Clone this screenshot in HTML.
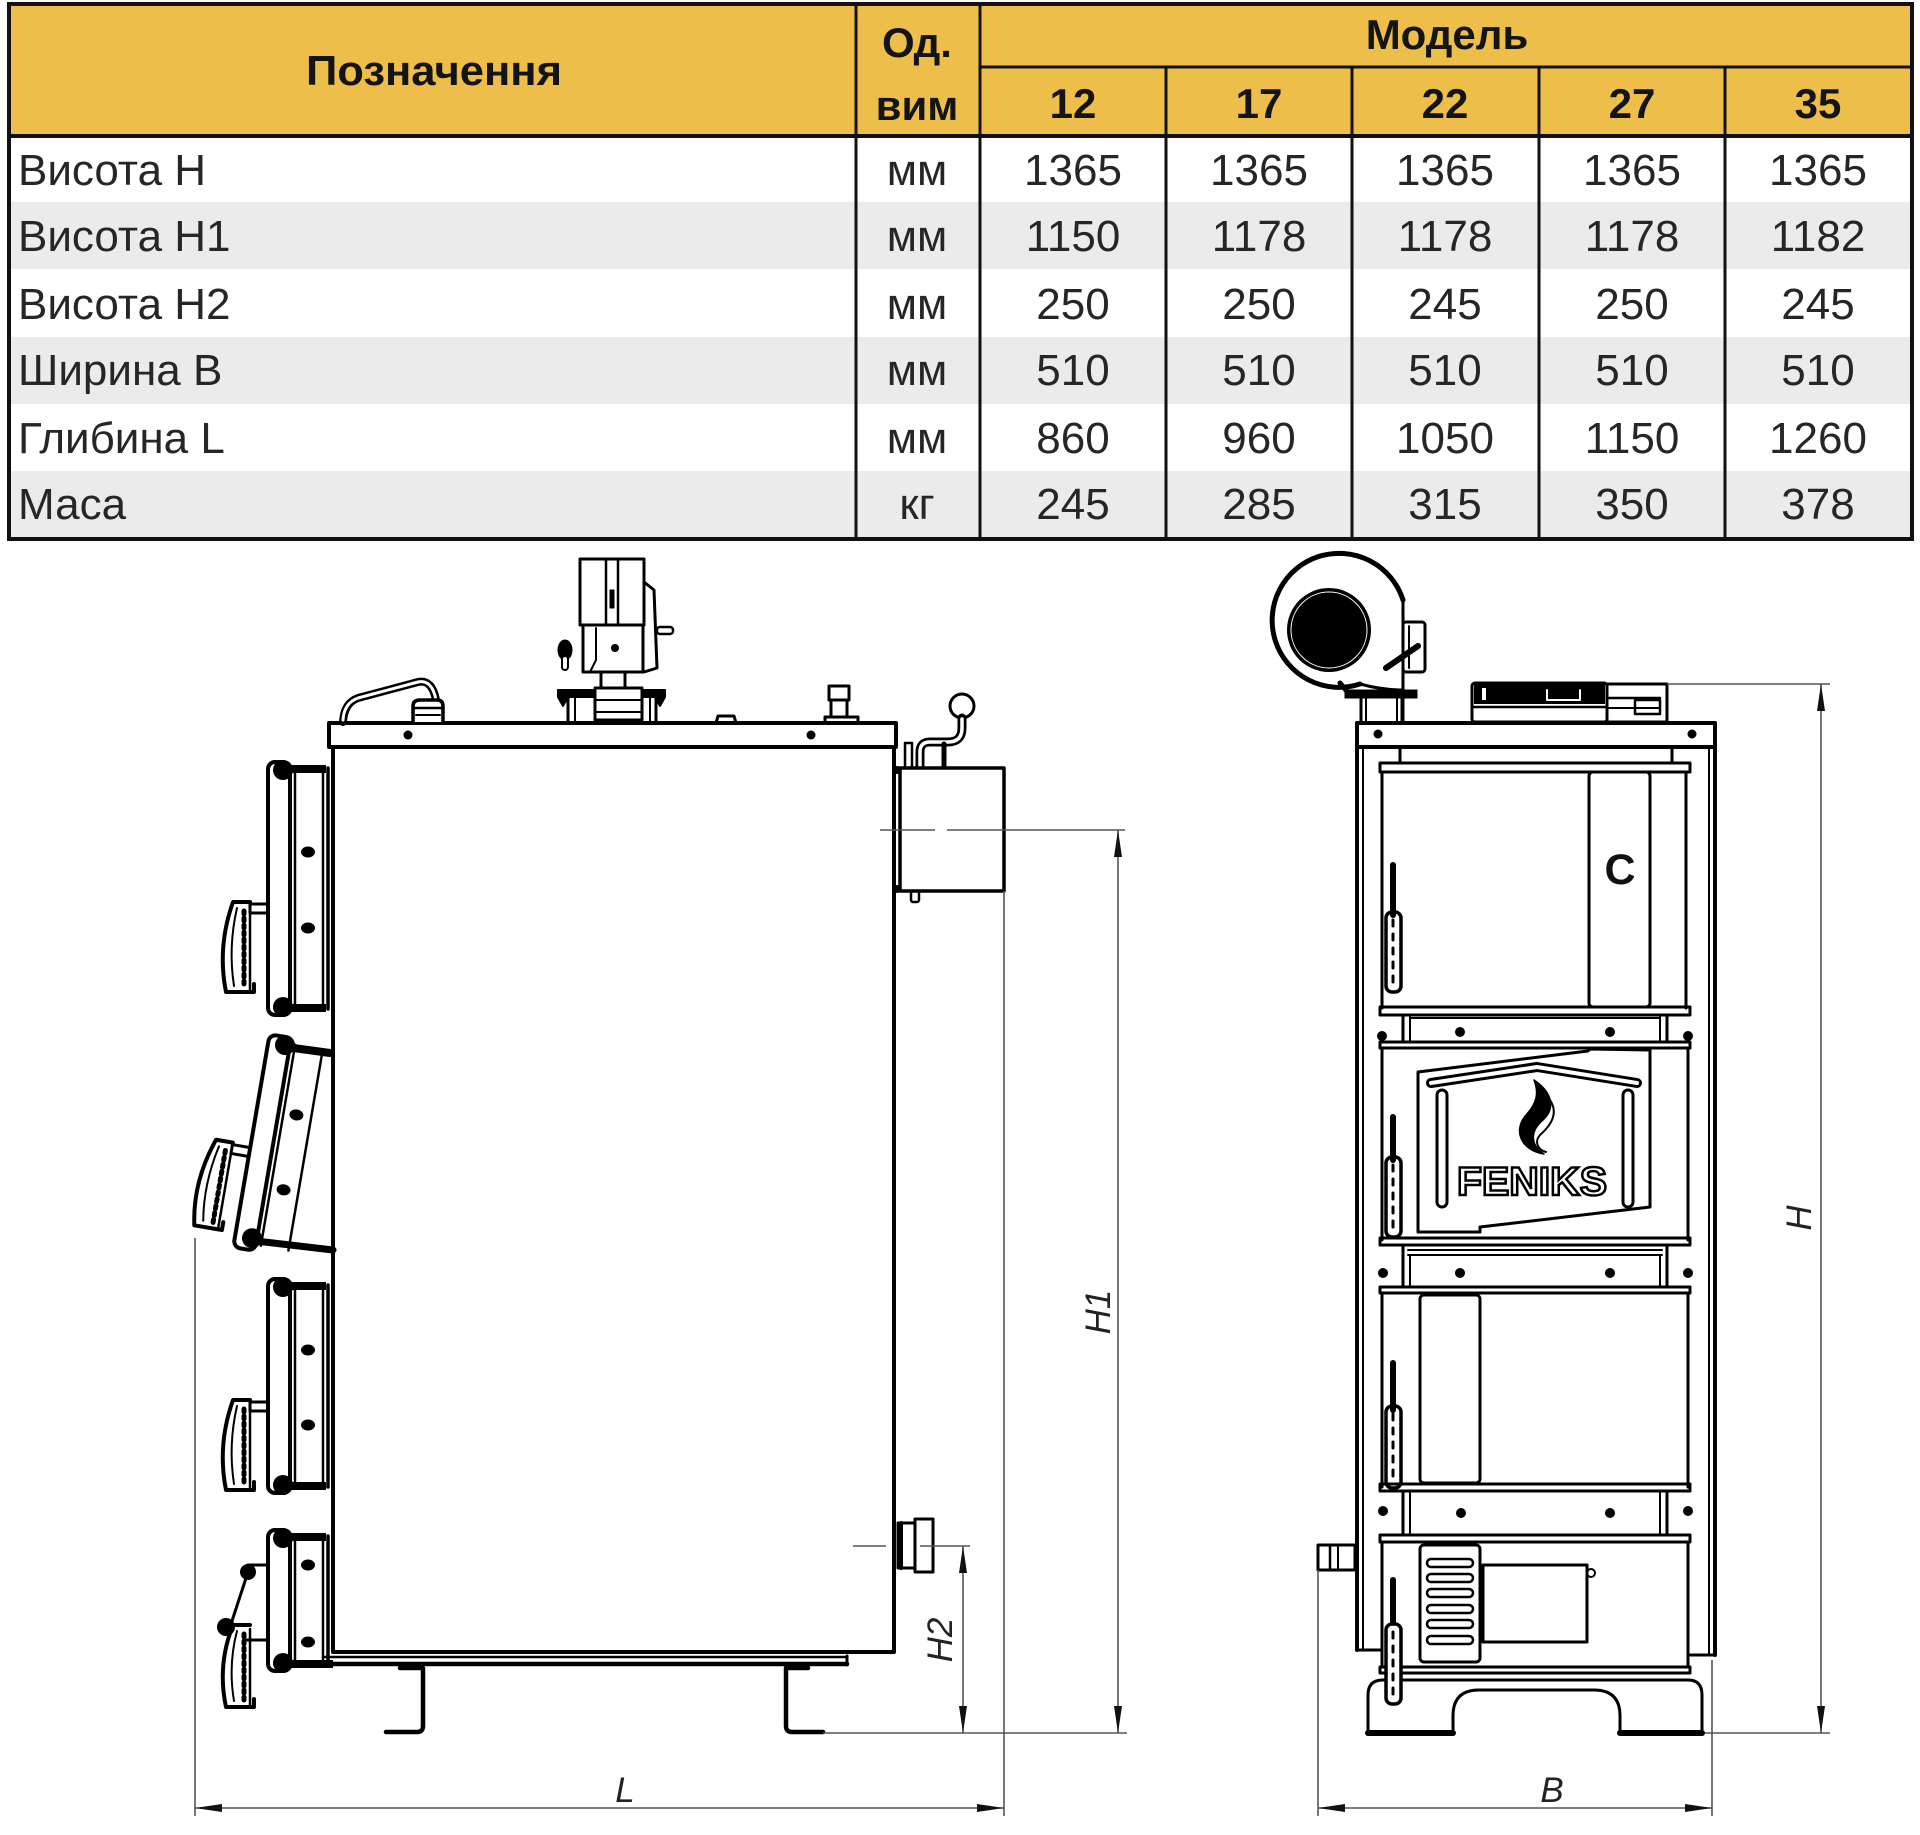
<!DOCTYPE html>
<html>
<head>
<meta charset="utf-8">
<style>
html,body{margin:0;padding:0;background:#fff;}
body{width:1920px;height:1835px;overflow:hidden;}
svg{display:block;}
</style>
</head>
<body>
<svg width="1920" height="1835" viewBox="0 0 1920 1835" xmlns="http://www.w3.org/2000/svg">
<rect x="0" y="0" width="1920" height="1835" fill="#fff"/>

<!-- ================= TABLE ================= -->
<rect x="9" y="4" width="1903" height="132" fill="#EEBE4B"/>
<rect x="9" y="202" width="1903" height="67" fill="#EBEBEB"/>
<rect x="9" y="337" width="1903" height="67" fill="#EBEBEB"/>
<rect x="9" y="471" width="1903" height="68" fill="#EBEBEB"/>

<g stroke="#111" fill="none">
  <rect x="9" y="4" width="1903" height="535" stroke-width="4"/>
  <line x1="9" y1="136" x2="1912" y2="136" stroke-width="4"/>
  <line x1="980" y1="67" x2="1912" y2="67" stroke-width="3"/>
  <line x1="856" y1="4" x2="856" y2="539" stroke-width="3"/>
  <line x1="980" y1="4" x2="980" y2="539" stroke-width="3"/>
  <line x1="1166" y1="67" x2="1166" y2="539" stroke-width="3"/>
  <line x1="1352" y1="67" x2="1352" y2="539" stroke-width="3"/>
  <line x1="1539" y1="67" x2="1539" y2="539" stroke-width="3"/>
  <line x1="1725" y1="67" x2="1725" y2="539" stroke-width="3"/>
</g>

<g font-family="'Liberation Sans', 'DejaVu Sans', sans-serif" font-weight="bold" fill="#141414" text-anchor="middle" font-size="42">
  <text x="434" y="85" textLength="256" lengthAdjust="spacingAndGlyphs">Позначення</text>
  <text x="917" y="57">Од.</text>
  <text x="917" y="120">вим</text>
  <text x="1447" y="49">Модель</text>
  <text x="1073" y="118">12</text>
  <text x="1259" y="118">17</text>
  <text x="1445" y="118">22</text>
  <text x="1632" y="118">27</text>
  <text x="1818" y="118">35</text>
</g>

<g font-family="'Liberation Sans', 'DejaVu Sans', sans-serif" fill="#262626" font-size="44">
  <text x="18" y="185">Висота H</text>
  <text x="18" y="251">Висота H1</text>
  <text x="18" y="319">Висота H2</text>
  <text x="18" y="385">Ширина B</text>
  <text x="18" y="453">Глибина L</text>
  <text x="18" y="519">Маса</text>
</g>
<g font-family="'Liberation Sans', 'DejaVu Sans', sans-serif" fill="#262626" font-size="44" text-anchor="middle">
  <text x="917" y="185">мм</text>
  <text x="917" y="251">мм</text>
  <text x="917" y="319">мм</text>
  <text x="917" y="385">мм</text>
  <text x="917" y="453">мм</text>
  <text x="917" y="519">кг</text>

  <text x="1073" y="185">1365</text><text x="1259" y="185">1365</text><text x="1445" y="185">1365</text><text x="1632" y="185">1365</text><text x="1818" y="185">1365</text>
  <text x="1073" y="251">1150</text><text x="1259" y="251">1178</text><text x="1445" y="251">1178</text><text x="1632" y="251">1178</text><text x="1818" y="251">1182</text>
  <text x="1073" y="319">250</text><text x="1259" y="319">250</text><text x="1445" y="319">245</text><text x="1632" y="319">250</text><text x="1818" y="319">245</text>
  <text x="1073" y="385">510</text><text x="1259" y="385">510</text><text x="1445" y="385">510</text><text x="1632" y="385">510</text><text x="1818" y="385">510</text>
  <text x="1073" y="453">860</text><text x="1259" y="453">960</text><text x="1445" y="453">1050</text><text x="1632" y="453">1150</text><text x="1818" y="453">1260</text>
  <text x="1073" y="519">245</text><text x="1259" y="519">285</text><text x="1445" y="519">315</text><text x="1632" y="519">350</text><text x="1818" y="519">378</text>
</g>

<!-- ================= LEFT DRAWING (side view) ================= -->
<g fill="none" stroke="#000" stroke-linejoin="round" stroke-linecap="round">
  <rect x="333" y="747" width="561" height="905" stroke-width="4"/>
  <rect x="329" y="723" width="567" height="24" stroke-width="4"/>
  <circle cx="408" cy="735" r="4.5" fill="#000" stroke="none"/>
  <circle cx="811" cy="735" r="4.5" fill="#000" stroke="none"/>
  <circle cx="897" cy="770" r="4" fill="#000" stroke="none"/>
  <circle cx="897" cy="889" r="4" fill="#000" stroke="none"/>
  <line x1="323" y1="1657" x2="845" y2="1657" stroke-width="2.5"/>
  <line x1="323" y1="1664" x2="847" y2="1664" stroke-width="4.5"/>
  <line x1="847" y1="1656" x2="847" y2="1665" stroke-width="3"/>
  <path d="M400 1668 L423 1668 L423 1726 Q423 1732 417 1732 L386 1732" stroke-width="4.5"/>
  <path d="M808 1668 L786 1668 L786 1726 Q786 1732 792 1732 L823 1732" stroke-width="4.5"/>

  <!-- top blower -->
  <rect x="580" y="559" width="64" height="66" stroke-width="3"/>
  <rect x="606" y="559" width="12" height="66" stroke-width="2.5"/>
  <rect x="610" y="590" width="4" height="18" fill="#000" stroke-width="1"/>
  <path d="M644 582 L654 590 L657 668 L644 672" stroke-width="3"/>
  <rect x="657" y="627" width="16" height="7" rx="3" stroke-width="2.5"/>
  <rect x="583" y="625" width="60" height="47" stroke-width="3"/>
  <circle cx="615" cy="648" r="4" fill="#000" stroke="none"/>
  <path d="M596 628 L596 660 L590 672" stroke-width="2"/>
  <ellipse cx="565" cy="650" rx="7" ry="10" fill="#000" stroke-width="1"/>
  <rect x="562" y="656" width="6" height="14" rx="3" fill="#fff" stroke-width="2"/>
  <rect x="601" y="672" width="24" height="16" stroke-width="3"/>
  <path d="M558 690 L665 690 L665 697 L660 706 L655 697 L568 697 L563 706 L558 697 Z" fill="#000" stroke-width="2"/>
  <line x1="568" y1="697" x2="568" y2="722" stroke-width="3"/>
  <line x1="575" y1="697" x2="575" y2="722" stroke-width="2"/>
  <line x1="650" y1="697" x2="650" y2="722" stroke-width="2"/>
  <line x1="656" y1="697" x2="656" y2="722" stroke-width="3"/>
  <rect x="595" y="688" width="47" height="32" fill="#fff" stroke-width="3"/>
  <line x1="595" y1="700" x2="642" y2="700" stroke-width="2"/>
  <line x1="595" y1="712" x2="642" y2="712" stroke-width="2"/>

  <!-- top-left rod handle -->
  <path d="M343 722 Q344 703 358 698 L418 682 Q432 679 436 700" stroke-width="8"/>
  <path d="M343 720 Q344 703 358 698 L418 682 Q432 679 436 700" stroke="#fff" stroke-width="3"/>
  <path d="M413 722 L413 706 Q413 700 420 700 L437 700 Q443 700 443 706 L443 722" fill="#fff" stroke-width="3.5"/>
  <line x1="413" y1="708" x2="443" y2="708" stroke-width="2.5"/>
  <line x1="416" y1="715" x2="440" y2="715" stroke-width="2"/>
  <path d="M716 723 L718 716 L734 716 L736 723" stroke-width="3"/>
  <rect x="829" y="686" width="20" height="14" stroke-width="3"/>
  <rect x="831" y="700" width="16" height="17" stroke-width="3"/>
  <path d="M825 723 L825 717 L858 717 L858 723" stroke-width="3"/>

  <!-- right side rod with ball -->
  <circle cx="962" cy="706" r="12" fill="#fff" stroke-width="3"/>
  <path d="M962 718 L962 728 Q962 742 948 742 L930 742 Q920 742 920 752 L920 768" stroke-width="9"/>
  <path d="M962 719 L962 728 Q962 742 948 742 L930 742 Q920 742 920 752 L920 766" stroke="#fff" stroke-width="3.5"/>
  <line x1="944" y1="744" x2="944" y2="768" stroke-width="5"/>
  <rect x="905" y="743" width="7" height="25" stroke-width="2.5"/>
  <rect x="900" y="768" width="104" height="123" fill="#fff" stroke-width="3.5"/>
  <rect x="911" y="891" width="8" height="11" rx="2" stroke-width="2.5"/>

  <rect x="898" y="1523" width="17" height="45" stroke-width="3"/>
  <rect x="915" y="1519" width="18" height="53" stroke-width="3"/>
  <line x1="901" y1="1523" x2="901" y2="1568" stroke-width="4"/>

  <!-- Door 1 -->
  <rect x="268" y="762" width="22" height="253" rx="7" stroke-width="4"/>
  <line x1="295" y1="768" x2="295" y2="1009" stroke-width="2.5"/>
  <line x1="323" y1="768" x2="323" y2="1009" stroke-width="2.5"/>
  <line x1="328" y1="768" x2="328" y2="1009" stroke-width="3.5"/>
  <rect x="283" y="765" width="43" height="8" fill="#000" stroke="none"/>
  <rect x="283" y="1004" width="43" height="8" fill="#000" stroke="none"/>
  <circle cx="283" cy="770" r="10" fill="#000" stroke="none"/>
  <circle cx="283" cy="1007" r="10" fill="#000" stroke="none"/>
  <ellipse cx="308" cy="852" rx="7" ry="5.5" fill="#000" stroke="none"/>
  <ellipse cx="308" cy="928" rx="7" ry="5.5" fill="#000" stroke="none"/>
  <g transform="translate(0,902)">
    <path d="M268 2 L250 2 L250 11 L268 11" stroke-width="3"/>
    <path d="M250 0 L233 0 Q217 45 226 90 L254 90 L254 82" stroke-width="4"/>
    <path d="M237 6 Q228 45 234 84" stroke-width="2"/>
    <line x1="244" y1="9" x2="244" y2="84" stroke-width="5" stroke-dasharray="3 4"/>
    <line x1="250" y1="4" x2="250" y2="88" stroke-width="2.5"/>
  </g>

  <!-- Door 2 (tilted) -->
  <g transform="rotate(9.7 285 1045)">
    <rect x="268" y="1037" width="22" height="216" rx="7" stroke-width="4"/>
    <line x1="295" y1="1043" x2="295" y2="1247" stroke-width="2.5"/>
    <line x1="323" y1="1043" x2="323" y2="1247" stroke-width="2.5"/>
    <circle cx="285" cy="1045" r="10" fill="#000" stroke="none"/>
    <circle cx="285" cy="1241" r="10" fill="#000" stroke="none"/>
    <ellipse cx="308" cy="1112" rx="7" ry="5.5" fill="#000" stroke="none"/>
    <ellipse cx="308" cy="1188" rx="7" ry="5.5" fill="#000" stroke="none"/>
    <g transform="translate(0,1150)">
      <path d="M268 2 L250 2 L250 11 L268 11" stroke-width="3"/>
      <path d="M250 0 L233 0 Q217 45 226 88 L254 88 L254 80" stroke-width="4"/>
      <path d="M237 6 Q228 45 234 82" stroke-width="2"/>
      <line x1="244" y1="9" x2="244" y2="82" stroke-width="5" stroke-dasharray="3 4"/>
      <line x1="250" y1="4" x2="250" y2="86" stroke-width="2.5"/>
    </g>
  </g>
  <path d="M286 1047 L330 1053" stroke-width="8"/>
  <path d="M256 1241 L333 1250" stroke-width="7"/>

  <!-- Door 3 -->
  <rect x="268" y="1279" width="22" height="214" rx="7" stroke-width="4"/>
  <line x1="295" y1="1285" x2="295" y2="1487" stroke-width="2.5"/>
  <line x1="323" y1="1285" x2="323" y2="1487" stroke-width="2.5"/>
  <line x1="328" y1="1285" x2="328" y2="1487" stroke-width="3.5"/>
  <rect x="283" y="1282" width="43" height="8" fill="#000" stroke="none"/>
  <rect x="283" y="1482" width="43" height="8" fill="#000" stroke="none"/>
  <circle cx="283" cy="1287" r="10" fill="#000" stroke="none"/>
  <circle cx="283" cy="1485" r="10" fill="#000" stroke="none"/>
  <ellipse cx="308" cy="1350" rx="7" ry="5.5" fill="#000" stroke="none"/>
  <ellipse cx="308" cy="1425" rx="7" ry="5.5" fill="#000" stroke="none"/>
  <g transform="translate(0,1400)">
    <path d="M268 2 L250 2 L250 11 L268 11" stroke-width="3"/>
    <path d="M250 0 L233 0 Q217 45 226 90 L254 90 L254 82" stroke-width="4"/>
    <path d="M237 6 Q228 45 234 84" stroke-width="2"/>
    <line x1="244" y1="9" x2="244" y2="84" stroke-width="5" stroke-dasharray="3 4"/>
    <line x1="250" y1="4" x2="250" y2="88" stroke-width="2.5"/>
  </g>

  <!-- Door 4 -->
  <rect x="268" y="1530" width="22" height="141" rx="7" stroke-width="4"/>
  <line x1="295" y1="1536" x2="295" y2="1665" stroke-width="2.5"/>
  <line x1="323" y1="1536" x2="323" y2="1665" stroke-width="2.5"/>
  <line x1="328" y1="1536" x2="328" y2="1665" stroke-width="3.5"/>
  <rect x="283" y="1533" width="43" height="8" fill="#000" stroke="none"/>
  <rect x="283" y="1660" width="50" height="8" fill="#000" stroke="none"/>
  <circle cx="283" cy="1538" r="10" fill="#000" stroke="none"/>
  <circle cx="283" cy="1663" r="10" fill="#000" stroke="none"/>
  <ellipse cx="308" cy="1565" rx="7" ry="5.5" fill="#000" stroke="none"/>
  <ellipse cx="308" cy="1642" rx="7" ry="5.5" fill="#000" stroke="none"/>
  <line x1="248" y1="1565" x2="268" y2="1565" stroke-width="3"/>
  <line x1="245" y1="1640" x2="268" y2="1640" stroke-width="3"/>
  <line x1="248" y1="1572" x2="231" y2="1624" stroke-width="3"/>
  <circle cx="248" cy="1572" r="8" fill="#000" stroke="none"/>
  <circle cx="226" cy="1627" r="9" fill="#000" stroke="none"/>
  <g transform="translate(0,1625)">
    <path d="M250 0 L233 0 Q217 40 226 82 L254 82 L254 74" stroke-width="4"/>
    <path d="M237 6 Q228 40 234 76" stroke-width="2"/>
    <line x1="244" y1="9" x2="244" y2="76" stroke-width="5" stroke-dasharray="3 4"/>
    <line x1="250" y1="4" x2="250" y2="80" stroke-width="2.5"/>
  </g>
</g>

<!-- left drawing dimension lines -->
<g stroke="#555" stroke-width="1.6" fill="none">
  <line x1="880" y1="830" x2="935" y2="830"/>
  <line x1="947" y1="830" x2="1125" y2="830"/>
  <line x1="1118" y1="830" x2="1118" y2="1733"/>
  <line x1="853" y1="1546" x2="886" y2="1546"/>
  <line x1="920" y1="1546" x2="970" y2="1546"/>
  <line x1="963" y1="1546" x2="963" y2="1733"/>
  <line x1="823" y1="1733" x2="1127" y2="1733"/>
  <line x1="1004" y1="891" x2="1004" y2="1816"/>
  <line x1="195" y1="1238" x2="195" y2="1816"/>
  <line x1="195" y1="1808" x2="1004" y2="1808"/>
</g>
<g fill="#111">
  <polygon points="1118,830 1114,857 1122,857"/>
  <polygon points="1118,1733 1114,1706 1122,1706"/>
  <polygon points="963,1546 959,1573 967,1573"/>
  <polygon points="963,1733 959,1706 967,1706"/>
  <polygon points="195,1808 222,1804 222,1812"/>
  <polygon points="1004,1808 977,1804 977,1812"/>
</g>
<g font-family="'Liberation Sans', 'DejaVu Sans', sans-serif" font-style="italic" fill="#222" font-size="35" text-anchor="middle">
  <text x="625" y="1802">L</text>
  <text transform="translate(1110,1312) rotate(-90)">H1</text>
  <text transform="translate(952,1640) rotate(-90)">H2</text>
  <text x="1552" y="1802">B</text>
  <text transform="translate(1811,1218) rotate(-90)">H</text>
</g>

<!-- ================= RIGHT DRAWING (front view) ================= -->
<g fill="none" stroke="#000" stroke-linejoin="round" stroke-linecap="round">
  <line x1="1357" y1="723" x2="1357" y2="1650" stroke-width="4"/>
  <line x1="1363" y1="747" x2="1363" y2="1650" stroke-width="2"/>
  <line x1="1357" y1="1650" x2="1380" y2="1650" stroke-width="3"/>
  <line x1="1715" y1="723" x2="1715" y2="1655" stroke-width="4"/>
  <line x1="1709" y1="747" x2="1709" y2="1655" stroke-width="2"/>
  <line x1="1690" y1="1655" x2="1715" y2="1655" stroke-width="3"/>
  <rect x="1357" y="723" width="358" height="24" stroke-width="4"/>
  <circle cx="1378" cy="734" r="4.5" fill="#000" stroke="none"/>
  <circle cx="1692" cy="734" r="4.5" fill="#000" stroke="none"/>
  <path d="M1363 747 L1400 747 L1400 763" stroke-width="3"/>
  <path d="M1709 747 L1672 747 L1672 762" stroke-width="3"/>

  <!-- fan -->
  <path d="M1403 600 A67 67 0 1 0 1360 684" stroke-width="5"/>
  <path d="M1360 684 Q1382 690 1403 690" stroke-width="3"/>
  <circle cx="1329" cy="630" r="42" fill="#000" stroke="none"/>
  <circle cx="1329" cy="630" r="38" stroke="#fff" stroke-width="1"/>
  <line x1="1403" y1="598" x2="1403" y2="722" stroke-width="3"/>
  <rect x="1403" y="622" width="22" height="50" rx="3" stroke-width="3"/>
  <line x1="1409" y1="626" x2="1409" y2="668" stroke-width="2"/>
  <line x1="1386" y1="668" x2="1418" y2="646" stroke-width="6"/>
  <path d="M1340 683 L1350 695" stroke-width="5"/>
  <rect x="1345" y="690" width="72" height="8" fill="#000" stroke-width="1"/>
  <line x1="1361" y1="698" x2="1361" y2="723" stroke-width="3"/>
  <line x1="1366" y1="698" x2="1366" y2="723" stroke-width="2"/>
  <line x1="1397" y1="698" x2="1397" y2="723" stroke-width="2"/>
  <line x1="1402" y1="698" x2="1402" y2="723" stroke-width="3"/>

  <!-- control box -->
  <rect x="1472" y="683" width="135" height="39" rx="3" stroke-width="3"/>
  <rect x="1474" y="684" width="131" height="20" fill="#000" stroke="none"/>
  <rect x="1482" y="688" width="4" height="12" fill="#fff" stroke="none"/>
  <path d="M1547 690 L1547 700 L1580 700 L1580 690" stroke="#fff" stroke-width="2"/>
  <line x1="1474" y1="707" x2="1605" y2="707" stroke-width="2.5"/>
  <rect x="1607" y="684" width="60" height="38" stroke-width="3"/>
  <line x1="1607" y1="698" x2="1660" y2="698" stroke-width="2.5"/>
  <line x1="1607" y1="708" x2="1660" y2="708" stroke-width="2"/>
  <rect x="1635" y="700" width="25" height="14" stroke-width="2.5"/>

  <!-- Door 1 (C) -->
  <rect x="1380" y="763" width="310" height="9" stroke-width="3"/>
  <line x1="1382" y1="772" x2="1382" y2="1008" stroke-width="3"/>
  <line x1="1686" y1="772" x2="1686" y2="1008" stroke-width="3"/>
  <rect x="1589" y="772" width="61" height="235" rx="4" stroke-width="3"/>
  <rect x="1380" y="1007" width="310" height="8" stroke-width="3"/>
  <line x1="1403" y1="1015" x2="1403" y2="1042" stroke-width="3"/>
  <line x1="1410" y1="1015" x2="1410" y2="1042" stroke-width="2"/>
  <line x1="1660" y1="1015" x2="1660" y2="1042" stroke-width="2"/>
  <line x1="1667" y1="1015" x2="1667" y2="1042" stroke-width="3"/>
  <line x1="1410" y1="1018" x2="1660" y2="1018" stroke-width="2"/>
  <!-- Door 2 (FENIKS) -->
  <rect x="1380" y="1042" width="310" height="6" stroke-width="3"/>
  <line x1="1382" y1="1048" x2="1382" y2="1240" stroke-width="3"/>
  <line x1="1688" y1="1048" x2="1688" y2="1240" stroke-width="3"/>
  <path d="M1418 1072 L1588 1051 L1590 1049 L1650 1050 L1650 1207 L1480 1227 L1480 1232 L1418 1232 Z" stroke-width="3"/>
  <path d="M1431 1083 L1537 1067 L1637 1083" stroke-width="10"/>
  <path d="M1431 1083 L1537 1067 L1637 1083" stroke="#fff" stroke-width="4"/>
  <rect x="1437" y="1090" width="10" height="117" rx="5" stroke-width="3"/>
  <rect x="1623" y="1090" width="10" height="117" rx="5" stroke-width="3"/>
  <path d="M1534 1080 C1552 1092 1556 1108 1543 1120 C1530 1131 1530 1145 1544 1154 C1520 1150 1513 1130 1526 1115 C1537 1103 1539 1093 1534 1080 Z" fill="#000" stroke-width="1.5"/>
  <path d="M1550 1100 C1560 1115 1548 1128 1540 1135 C1534 1142 1538 1150 1546 1152" stroke-width="2"/>
  <rect x="1380" y="1238" width="310" height="7" stroke-width="3"/>
  <line x1="1403" y1="1245" x2="1403" y2="1287" stroke-width="3"/>
  <line x1="1410" y1="1255" x2="1410" y2="1287" stroke-width="2"/>
  <line x1="1660" y1="1255" x2="1660" y2="1287" stroke-width="2"/>
  <line x1="1667" y1="1245" x2="1667" y2="1287" stroke-width="3"/>
  <line x1="1408" y1="1250" x2="1662" y2="1250" stroke-width="2"/>
  <line x1="1408" y1="1255" x2="1662" y2="1255" stroke-width="2"/>
  <!-- Door 3 -->
  <rect x="1380" y="1287" width="310" height="6" stroke-width="3"/>
  <line x1="1382" y1="1293" x2="1382" y2="1487" stroke-width="3"/>
  <line x1="1688" y1="1293" x2="1688" y2="1487" stroke-width="3"/>
  <rect x="1420" y="1295" width="60" height="188" rx="4" stroke-width="3"/>
  <rect x="1380" y="1484" width="310" height="7" stroke-width="3"/>
  <line x1="1403" y1="1491" x2="1403" y2="1535" stroke-width="3"/>
  <line x1="1410" y1="1491" x2="1410" y2="1535" stroke-width="2"/>
  <line x1="1660" y1="1491" x2="1660" y2="1535" stroke-width="2"/>
  <line x1="1667" y1="1491" x2="1667" y2="1535" stroke-width="3"/>
  <!-- Door 4 (ash) -->
  <rect x="1380" y="1535" width="310" height="7" stroke-width="3"/>
  <line x1="1382" y1="1542" x2="1382" y2="1667" stroke-width="3"/>
  <line x1="1688" y1="1542" x2="1688" y2="1667" stroke-width="3"/>
  <rect x="1420" y="1545" width="60" height="117" rx="4" stroke-width="3"/>
  <rect x="1427" y="1559" width="46" height="8" rx="4" stroke-width="2.5"/>
  <rect x="1427" y="1574" width="46" height="8" rx="4" stroke-width="2.5"/>
  <rect x="1427" y="1589" width="46" height="8" rx="4" stroke-width="2.5"/>
  <rect x="1427" y="1605" width="46" height="8" rx="4" stroke-width="2.5"/>
  <rect x="1427" y="1620" width="46" height="8" rx="4" stroke-width="2.5"/>
  <rect x="1427" y="1636" width="46" height="8" rx="4" stroke-width="2.5"/>
  <rect x="1483" y="1565" width="104" height="77" stroke-width="3"/>
  <circle cx="1591" cy="1573" r="4" stroke-width="2"/>
  <rect x="1380" y="1667" width="310" height="6" stroke-width="3"/>
  <!-- base -->
  <path d="M1368 1733 L1368 1695 Q1368 1680 1383 1680 L1688 1680 Q1702 1680 1702 1695 L1702 1733 L1620 1733 L1620 1716 Q1620 1690 1594 1690 L1479 1690 Q1453 1690 1453 1716 L1453 1733 Z" stroke-width="3"/>
  <line x1="1368" y1="1733" x2="1453" y2="1733" stroke-width="6"/>
  <line x1="1620" y1="1733" x2="1702" y2="1733" stroke-width="6"/>
  <rect x="1318" y="1545" width="37" height="25" stroke-width="3"/>
  <line x1="1330" y1="1545" x2="1330" y2="1570" stroke-width="2.5"/>
  <line x1="1338" y1="1545" x2="1338" y2="1570" stroke-width="2"/>

  <!-- handles -->
  <line x1="1393" y1="865" x2="1393" y2="915" stroke-width="6"/>
  <rect x="1386" y="912" width="15" height="80" rx="6" stroke-width="3.5"/>
  <line x1="1393" y1="920" x2="1393" y2="985" stroke-width="3" stroke-dasharray="6 8"/>
  <line x1="1393" y1="1117" x2="1393" y2="1160" stroke-width="6"/>
  <rect x="1386" y="1157" width="15" height="80" rx="6" stroke-width="3.5"/>
  <line x1="1393" y1="1165" x2="1393" y2="1230" stroke-width="3" stroke-dasharray="6 8"/>
  <line x1="1393" y1="1363" x2="1393" y2="1410" stroke-width="6"/>
  <rect x="1386" y="1406" width="15" height="82" rx="6" stroke-width="3.5"/>
  <line x1="1393" y1="1414" x2="1393" y2="1480" stroke-width="3" stroke-dasharray="6 8"/>
  <line x1="1393" y1="1580" x2="1393" y2="1628" stroke-width="6"/>
  <rect x="1386" y="1624" width="15" height="80" rx="6" fill="#fff" stroke-width="3.5"/>
  <line x1="1393" y1="1632" x2="1393" y2="1697" stroke-width="3" stroke-dasharray="6 8"/>
</g>
<g fill="#000">
  <circle cx="1382" cy="1036" r="5"/><circle cx="1460" cy="1032" r="5"/><circle cx="1610" cy="1032" r="5"/><circle cx="1688" cy="1036" r="5"/>
  <circle cx="1383" cy="1273" r="5"/><circle cx="1460" cy="1273" r="5"/><circle cx="1610" cy="1273" r="5"/><circle cx="1688" cy="1273" r="5"/>
  <circle cx="1383" cy="1511" r="5"/><circle cx="1461" cy="1513" r="5"/><circle cx="1610" cy="1513" r="5"/><circle cx="1688" cy="1511" r="5"/>
</g>
<text x="1620" y="884" font-family="'Liberation Sans', 'DejaVu Sans', sans-serif" font-weight="bold" font-size="43" fill="#111" text-anchor="middle">C</text>
<text x="1532" y="1195" font-family="'Liberation Sans', 'DejaVu Sans', sans-serif" font-weight="bold" font-size="40" fill="#fff" stroke="#000" stroke-width="2.5" text-anchor="middle" textLength="150" lengthAdjust="spacingAndGlyphs">FENIKS</text>

<g stroke="#555" stroke-width="1.6" fill="none">
  <line x1="1667" y1="684" x2="1830" y2="684"/>
  <line x1="1821" y1="684" x2="1821" y2="1733"/>
  <line x1="1705" y1="1733" x2="1830" y2="1733"/>
  <line x1="1318" y1="1570" x2="1318" y2="1816"/>
  <line x1="1712" y1="1660" x2="1712" y2="1816"/>
  <line x1="1318" y1="1808" x2="1712" y2="1808"/>
</g>
<g fill="#111">
  <polygon points="1821,684 1817,711 1825,711"/>
  <polygon points="1821,1733 1817,1706 1825,1706"/>
  <polygon points="1318,1808 1345,1804 1345,1812"/>
  <polygon points="1712,1808 1685,1804 1685,1812"/>
</g>
</svg>
</body>
</html>
